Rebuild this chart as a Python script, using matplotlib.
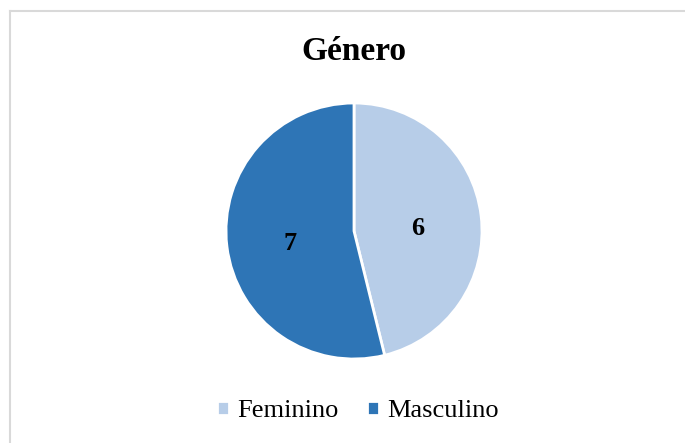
import matplotlib.pyplot as plt
from matplotlib.lines import Line2D

labels = ["Feminino", "Masculino"]
values = [6, 7]
colors = ["#B7CDE8", "#2E75B6"]

plt.rcParams['font.family'] = ['Liberation Serif', 'DejaVu Serif']

fig = plt.figure(figsize=(6.85, 4.43), dpi=100)
ax = fig.add_axes([(354 - 128) / 685, 84 / 443, 256 / 685, 256 / 443])

wedges, texts, autotexts = ax.pie(
    values, colors=colors, startangle=90, counterclock=False,
    autopct=lambda p: "%d" % round(p * sum(values) / 100),
    pctdistance=0.5, wedgeprops=dict(edgecolor="white", linewidth=2))
for t in autotexts:
    t.set_fontsize(19)
    t.set_fontweight("bold")
    t.set_color("black")
    x, y = t.get_position()
    t.set_position((x, y - 0.04))
ax.set_xlim(-1, 1)
ax.set_ylim(-1, 1)
ax.set_aspect("equal")

fig.text(354 / 685, 1 - 52 / 443, "Género", ha="center", va="center",
         fontsize=24, fontweight="bold")

fig.legend(wedges, labels, loc="center", bbox_to_anchor=(358 / 685, 1 - 411 / 443),
           ncol=2, frameon=False, fontsize=19, handlelength=0.45, handleheight=0.45,
           handletextpad=0.3, columnspacing=1.1)

# border lines of the chart area
fig.add_artist(Line2D([10 / 685, 10 / 685], [0, 1 - 11 / 443], color="#D9D9D9", lw=1.5))
fig.add_artist(Line2D([10 / 685, 1], [1 - 11 / 443, 1 - 11 / 443], color="#D9D9D9", lw=1.5))

fig.savefig("out.png", dpi=100)
